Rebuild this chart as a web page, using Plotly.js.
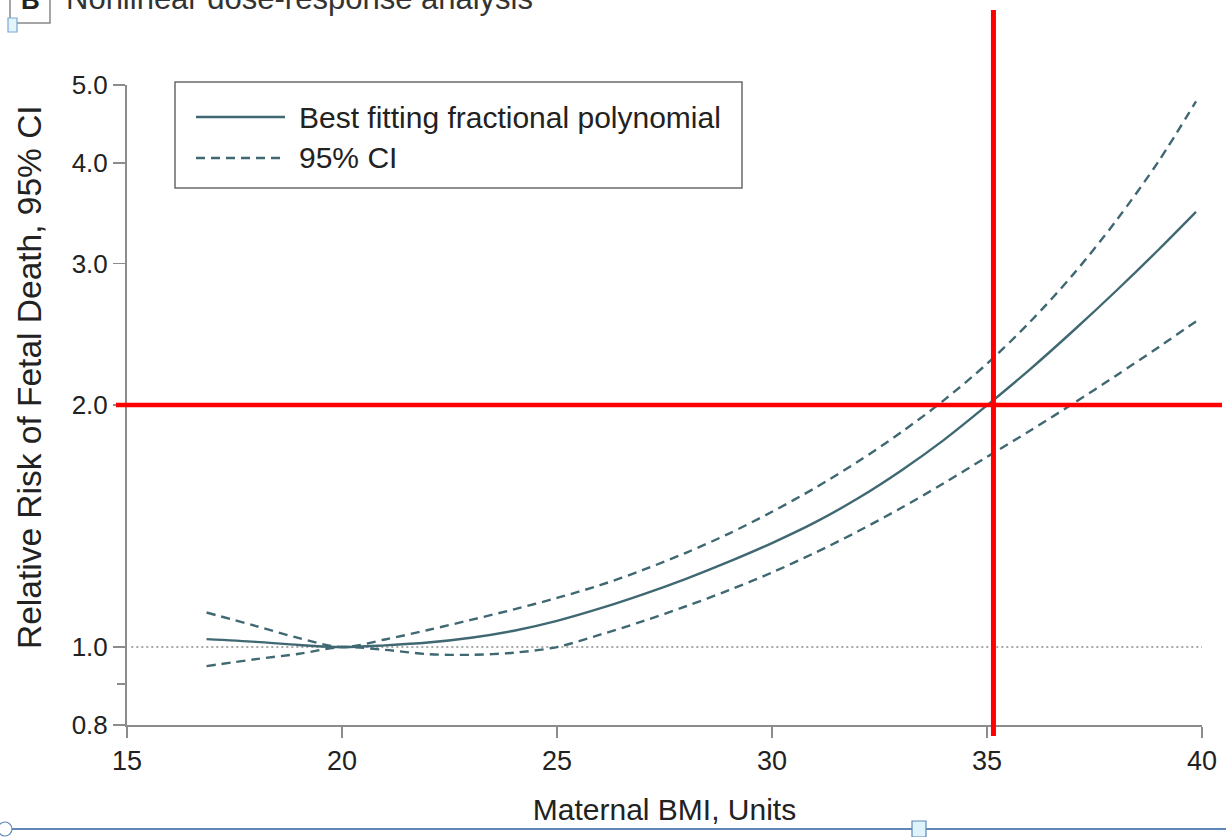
<!DOCTYPE html>
<html>
<head>
<meta charset="utf-8">
<script src="https://cdn.plot.ly/plotly-3.0.1.min.js"></script>
<style>
html,body{margin:0;padding:0;background:#fff;overflow:hidden}
#chart{width:1226px;height:837px}
</style>
</head>
<body>
<div id="chart"></div>
<script>
// ---- data ----
const bmi      = [16.85,18,19,20,21,22,23,24,25,26,27,28,29,30,31,32,33,34,35,36,37,38,39,39.86];
const fitRR    = [1.023,1.015,1.006,1.000,1.005,1.013,1.027,1.048,1.078,1.117,1.163,1.216,1.277,1.347,1.429,1.531,1.657,1.810,1.998,2.215,2.472,2.772,3.124,3.477];
const ciUpper  = [1.104,1.062,1.026,1.000,1.022,1.050,1.081,1.114,1.151,1.194,1.247,1.310,1.384,1.473,1.577,1.701,1.849,2.028,2.251,2.537,2.905,3.388,4.026,4.771];
const ciLower  = [0.947,0.966,0.981,1.000,0.992,0.980,0.978,0.984,1.000,1.036,1.077,1.124,1.177,1.238,1.310,1.393,1.489,1.599,1.724,1.858,2.008,2.175,2.362,2.541];
const xTickVals = [15,20,25,30,35,40];
const yTickVals = [0.8,1.0,2.0,3.0,4.0,5.0];
const yTickText = ['0.8','1.0','2.0','3.0','4.0','5.0'];
const yMinorVals = [0.9];
const refRR = 1.0;
const markBMI = 35.15;
const markRR = 2.0;
const seriesNames = ['Best fitting fractional polynomial','95% CI'];
const titleText = 'Nonlinear dose-response analysis';
const panelLetter = 'B';
const xTitle = 'Maternal BMI, Units';
const yTitle = 'Relative Risk of Fetal Death, 95% CI';

// ---- layout helpers (pixel -> paper) ----
const W = 1226, H = 837;
const M = {l:127, r:24, t:85, b:112};
const PW = W - M.l - M.r, PH = H - M.t - M.b;
const px = X => (X - M.l) / PW;
const py = Y => (H - M.b - Y) / PH;

const FONT = 'Liberation Sans, Arial, sans-serif';
const curveColor = '#3f6872';
const axisColor = '#8c8c8c';
const DASH = '9px,6px';

const traces = [
  {x: bmi, y: fitRR, type:'scatter', mode:'lines', name: seriesNames[0],
   line:{color:curveColor, width:2.4, shape:'spline', smoothing:0.9}},
  {x: bmi, y: ciUpper, type:'scatter', mode:'lines', name: seriesNames[1],
   line:{color:curveColor, width:2.4, dash:DASH, shape:'spline', smoothing:0.9}},
  {x: bmi, y: ciLower, type:'scatter', mode:'lines', name: seriesNames[1],
   line:{color:curveColor, width:2.4, dash:DASH, shape:'spline', smoothing:0.9}}
];

// legend drawn as a framed key (sample lines + labels)
const legendBox = {x0:175, x1:742, y0:82, y1:188};
const legendRows = [117, 158];
const legendDash = ['solid', DASH];

const shapes = [
  // reference line at RR = 1
  {type:'line', xref:'x', yref:'y', x0:15.1, x1:40, y0:refRR, y1:refRR,
   line:{color:'#8a8a8a', width:1.6, dash:'2px,3px'}, layer:'below'},
  // red markers
  {type:'line', xref:'x', yref:'paper', x0:markBMI, x1:markBMI, y0:py(736), y1:py(10),
   line:{color:'#ff0000', width:5}},
  {type:'line', xref:'paper', yref:'y', x0:px(116), x1:px(1222), y0:markRR, y1:markRR,
   line:{color:'#ff0000', width:4.5}},
  // legend frame
  {type:'rect', xref:'paper', yref:'paper', x0:px(legendBox.x0), x1:px(legendBox.x1),
   y0:py(legendBox.y1), y1:py(legendBox.y0), line:{color:'#6a6a6a', width:1.5}, fillcolor:'#fff'},
  // panel letter box
  {type:'rect', xref:'paper', yref:'paper', x0:px(10), x1:px(50), y0:py(23), y1:py(-20),
   line:{color:'#888', width:1.5}, fillcolor:'rgba(0,0,0,0)'},
  // small selection handles (screen artefacts)
  {type:'rect', xref:'paper', yref:'paper', x0:px(8), x1:px(17), y0:py(32), y1:py(18),
   line:{color:'#7aa6d6', width:1.2}, fillcolor:'#e3f4fb'},
  {type:'line', xref:'paper', yref:'paper', x0:px(0), x1:px(1226), y0:py(829), y1:py(829),
   line:{color:'#5f87b8', width:2}},
  {type:'circle', xref:'paper', yref:'paper', x0:px(-2), x1:px(12), y0:py(836), y1:py(822),
   line:{color:'#5f87b8', width:1.2}, fillcolor:'#fff'},
  {type:'rect', xref:'paper', yref:'paper', x0:px(912), x1:px(926), y0:py(837), y1:py(821),
   line:{color:'#5f87b8', width:1.2}, fillcolor:'#dff3fb'}
];
legendRows.forEach((r, i) => {
  shapes.push({type:'line', xref:'paper', yref:'paper', x0:px(196), x1:px(285), y0:py(r), y1:py(r),
               line:{color:curveColor, width:2.4, dash:legendDash[i]}});
});

const annotations = [
  {text:yTitle, xref:'paper', yref:'paper', x:px(29), y:py(377), xanchor:'center', yanchor:'middle',
   textangle:-90, showarrow:false, font:{family:FONT, size:33.5, color:'#222'}},
  {text:titleText, xref:'paper', yref:'paper', x:px(64), y:py(18), xanchor:'left', yanchor:'bottom',
   showarrow:false, font:{family:FONT, size:31, color:'#333'}},
  {text:'<b>'+panelLetter+'</b>', xref:'paper', yref:'paper', x:px(30), y:py(17), xanchor:'center', yanchor:'bottom',
   showarrow:false, font:{family:FONT, size:26, color:'#222'}}
];
legendRows.forEach((r, i) => {
  annotations.push({text:seriesNames[i], xref:'paper', yref:'paper', x:px(297), y:py(r),
                    xanchor:'left', yanchor:'middle', showarrow:false,
                    font:{family:FONT, size:30, color:'#222'}});
});

const layout = {
  width: W, height: H,
  margin: M,
  paper_bgcolor:'#fff', plot_bgcolor:'#fff',
  font:{family:FONT, color:'#222'},
  showlegend:false,
  xaxis:{range:[15,40], tickmode:'array', tickvals:xTickVals,
         showline:true, linecolor:axisColor, linewidth:2,
         ticks:'outside', ticklen:11, tickwidth:1.5, tickcolor:axisColor,
         showgrid:false, zeroline:false, fixedrange:true,
         tickfont:{family:FONT, size:27, color:'#222'},
         title:{text:xTitle, font:{family:FONT, size:30, color:'#222'}, standoff:24}},
  yaxis:{type:'log', range:[Math.log10(0.8), Math.log10(5)],
         tickmode:'array', tickvals:yTickVals, ticktext:yTickText,
         showline:true, linecolor:axisColor, linewidth:2,
         ticks:'outside', ticklen:12, tickwidth:1.5, tickcolor:axisColor,
         minor:{tickmode:'array', tickvals:yMinorVals, ticks:'outside', ticklen:8, tickwidth:1.5, tickcolor:axisColor, showgrid:false},
         showgrid:false, zeroline:false, fixedrange:true,
         tickfont:{family:FONT, size:26, color:'#222'}},
  shapes: shapes,
  annotations: annotations
};

Plotly.newPlot('chart', traces, layout, {displayModeBar:false, staticPlot:true});
</script>
</body>
</html>
